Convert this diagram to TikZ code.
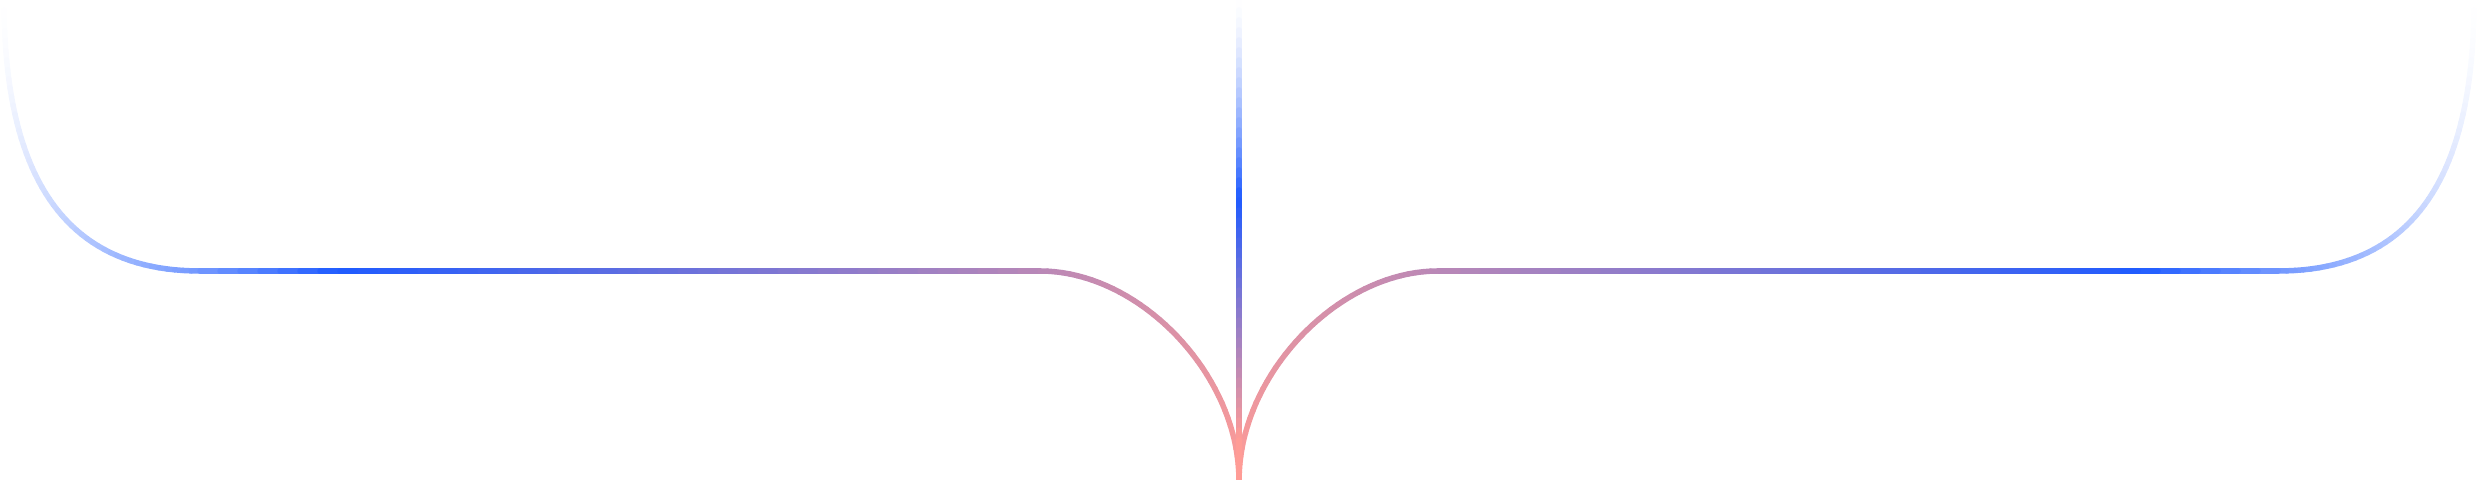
\documentclass[tikz,border=0pt]{standalone}
\usepackage{tikz}
\definecolor{lineblue}{HTML}{1F5BFF}
\definecolor{linepink}{HTML}{FF9C96}

\pgfmathdeclarefunction{bez}{5}{%
  \begingroup
  \pgfmathparse{(1-#5)*(1-#5)*(1-#5)*#1+3*(1-#5)*(1-#5)*#5*#2+3*(1-#5)*#5*#5*#3+#5*#5*#5*#4}%
  \pgfmathsmuggle\pgfmathresult
  \endgroup}

% colour at position #1 along a line: fades in up to #2, blue to pink up to #3
\newcommand{\setlinecol}[3]{%
  \pgfmathsetmacro{\linepos}{#1}%
  \pgfmathtruncatemacro{\isfade}{\linepos<#2}%
  \ifnum\isfade=1
    \pgfmathsetmacro{\mixp}{100*(\linepos/#2)*sqrt(\linepos/#2)}%
    \colorlet{linecol}{lineblue!\mixp!white}%
  \else
    \pgfmathsetmacro{\mixp}{100*min(1,(\linepos-#2)/(#3-#2))}%
    \colorlet{linecol}{linepink!\mixp!lineblue}%
  \fi}

\newcommand{\sidepath}{%
  \foreach \i in {1,...,48}{%
    \pgfmathsetmacro{\ta}{(\i-1)/48}%
    \pgfmathsetmacro{\tb}{\i/48}%
    \setlinecol{380/48*(\i-0.5)}{520}{1540}%
    \draw[glowline] ({bez(4,4,60,200,\ta)},{bez(0,170,271,271,\ta)})
      -- ({bez(4,4,60,200,\tb)},{bez(0,170,271,271,\tb)});
  }
  \foreach \i in {1,...,42}{%
    \setlinecol{380+20*(\i-0.5)}{520}{1540}%
    \draw[glowline] ({180+20*\i},271) -- ({200+20*\i},271);
  }
  \foreach \i in {1,...,40}{%
    \pgfmathsetmacro{\ta}{(\i-1)/40}%
    \pgfmathsetmacro{\tb}{\i/40}%
    \setlinecol{1220+8*(\i-0.5)}{520}{1540}%
    \draw[glowline] ({bez(1040,1140,1239,1239,\ta)},{bez(271,271,375,480,\ta)})
      -- ({bez(1040,1140,1239,1239,\tb)},{bez(271,271,375,480,\tb)});
  }}

\begin{document}
\begin{tikzpicture}[x=0.01cm,y=-0.01cm,
  glowline/.style={line width=0.055cm,line cap=round,draw=linecol}]
  \useasboundingbox (0,0) rectangle (2478,480);
  \sidepath
  \begin{scope}[shift={(2478,0)},xscale=-1]
    \sidepath
  \end{scope}
  \foreach \i in {1,...,48}{%
    \setlinecol{10*(\i-0.5)}{200}{440}%
    \draw[glowline] (1239,{10*\i-10}) -- (1239,{10*\i});
  }
\end{tikzpicture}
\end{document}
